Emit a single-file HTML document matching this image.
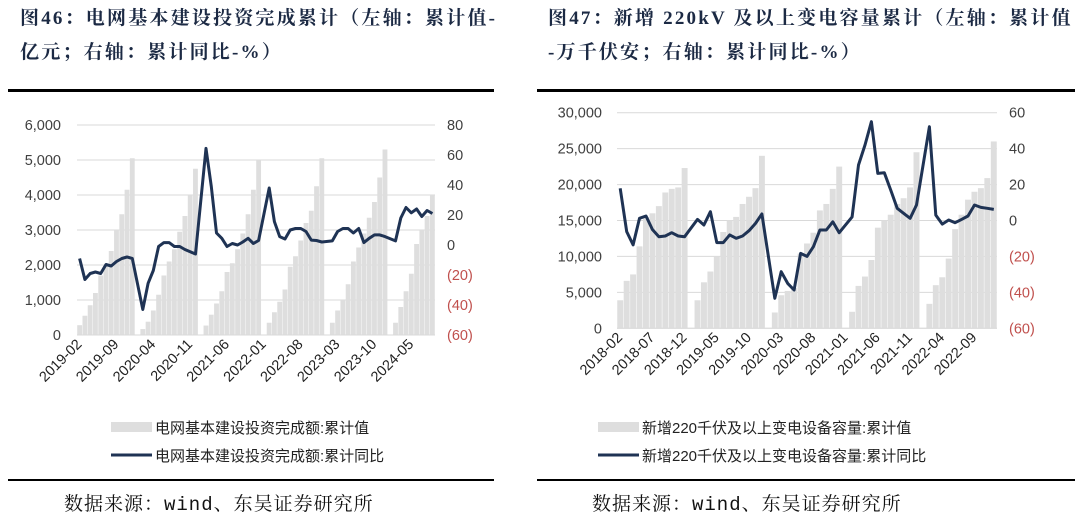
<!DOCTYPE html>
<html><head><meta charset="utf-8">
<style>
body{margin:0;width:1080px;height:522px;background:#fff;overflow:hidden;font-family:"Liberation Sans","Noto Sans CJK SC",sans-serif;}
.title{position:absolute;font-family:"Liberation Serif","Noto Serif CJK SC",serif;font-weight:bold;font-size:19px;color:#1c2a44;line-height:34px;letter-spacing:2.2px;white-space:nowrap;}
.src{position:absolute;font-family:"Liberation Mono","Noto Serif CJK SC",serif;font-size:19px;color:#111;letter-spacing:1px;}
.rule{position:absolute;background:#000;}
</style></head><body>
<div class="title" style="left:20px;top:2px;">图46：电网基本建设投资完成累计（左轴：累计值-<br>亿元；右轴：累计同比-%）</div>
<div class="title" style="left:548px;top:2px;">图47：新增 220kV 及以上变电容量累计（左轴：累计值<br>-万千伏安；右轴：累计同比-%）</div>
<div class="rule" style="left:8px;top:89px;width:486px;height:3px;"></div>
<div class="rule" style="left:537px;top:89px;width:538px;height:3px;"></div>
<div class="rule" style="left:8px;top:479px;width:486px;height:2px;"></div>
<div class="rule" style="left:537px;top:479px;width:538px;height:2px;"></div>
<div class="src" style="left:64px;top:489px;">数据来源：wind、东吴证券研究所</div>
<div class="src" style="left:592px;top:489px;">数据来源：wind、东吴证券研究所</div>
<svg id="svg" width="1080" height="522" style="position:absolute;left:0;top:0"></svg>
<script>
// ---- Left chart data (months Feb..Dec each year; Jan = null) ----
const leftStart = [2019, 2];
const leftBars2019 = [280,550,850,1200,1700,1950,2400,3000,3450,4150,5050];
const leftBars2020 = [170,380,700,1150,1700,2100,2450,2950,3400,4000,4750];
const leftBars2021 = [270,580,900,1250,1800,2050,2450,2900,3450,4150,5000];
const leftBars2022 = [350,650,950,1300,1950,2250,2700,3200,3550,4250,5050];
const leftBars2023 = [350,700,1000,1450,2100,2500,2900,3350,3800,4500,5300];
const leftBars2024 = [350,800,1250,1750,2600,3000,3400,4000];
const leftYoy2019 = [-9,-23,-19,-18,-19,-13,-14,-11,-9,-8,-9];
const leftYoy2020 = [-43,-25.5,-17,-1,1.6,1.6,-1,-1,-3,-4.5,-6];
const leftYoy2021 = [64.4,39,8,4.5,-1,1,0,2,4.5,1,3];
const leftYoy2022 = [38,15.6,5.6,4,10,11,11,9,3.3,3,2];
const leftYoy2023 = [2.7,9,11,11,8,11,1.6,4.5,6.7,6.7,5.6];
const leftYoy2024 = [2.7,18,25,21.5,24,19,23,21];
const leftTicksL = ["0","1,000","2,000","3,000","4,000","5,000","6,000"];
const leftTicksR = ["(60)","(40)","(20)","0","20","40","60","80"];
// ---- Right chart data ----
const rightStart = [2018, 2];
const rightBars2018 = [3900,6600,7500,11400,15500,16000,17000,18900,19400,19600,22300];
const rightBars2019 = [3900,6400,7900,10000,13400,15000,15500,17300,18300,19500,24000];
const rightBars2020 = [2200,4600,5200,5600,10400,11800,13300,16400,17300,19400,22500];
const rightBars2021 = [2300,5900,7200,9500,14000,15000,15800,17300,18100,19600,24500];
const rightBars2022 = [3400,6000,7100,9700,13800,15800,17900,19000,19500,20900,26000];
const rightYoy2018 = [17.9,-6.2,-13.6,1.2,2.5,-5,-9,-8.6,-6.8,-8.6,-9];
const rightYoy2019 = [0.6,-2.5,4.9,-12.3,-12.3,-8,-9.9,-8.6,-5.7,-1.6,3.6];
const rightYoy2020 = [-43.3,-28.5,-35,-38.7,-18.3,-20,-14.6,-5.3,-5.3,-0.7,-6.8];
const rightYoy2021 = [2,30.9,42,55,26.2,26.6,17,6.8,4,1.2,8.6];
const rightYoy2022 = [52.2,3,-2,0.3,-1.2,0.6,2.5,8.6,7.3,6.8,6.2];
const rightTicksL = ["0","5,000","10,000","15,000","20,000","25,000","30,000"];
const rightTicksR = ["(60)","(40)","(20)","0","20","40","60"];

const NS="http://www.w3.org/2000/svg";
const svg=document.getElementById('svg');
function mk(tag,attrs,parent){const e=document.createElementNS(NS,tag);for(const k in attrs)e.setAttribute(k,attrs[k]);(parent||svg).appendChild(e);return e;}

function build(cfg){
  const g=mk('g',{});
  
  
  const slots=[];
  cfg.bars.forEach((yb,yi)=>{
    const y=cfg.start[0]+yi;
    if(yi>0) slots.push({label:y+'-01',bar:null,yoy:null});
    yb.forEach((v,mi)=>{const m=mi+2;slots.push({label:y+'-'+String(m).padStart(2,'0'),bar:v,yoy:cfg.yoy[yi][mi]});});
  });
  const n=slots.length, step=(cfg.x1-cfg.x0)/n;
  const xC=i=>cfg.x0+(i+0.5)*step;
  const yL=v=>cfg.yb-(v-cfg.lmin)/(cfg.lmax-cfg.lmin)*(cfg.yb-cfg.yt);
  const yR=v=>cfg.yb-(v-cfg.rmin)/(cfg.rmax-cfg.rmin)*(cfg.yb-cfg.yt);
  cfg.ticksL.forEach((t,i)=>{
    const v=cfg.lmin+i*(cfg.lmax-cfg.lmin)/(cfg.ticksL.length-1);
    const gl=mk('line',{x1:cfg.x0,x2:cfg.x1,y1:yL(v),y2:yL(v),stroke:'#d9d9d9','stroke-width':1},g);
    
    
    const tx=mk('text',{x:cfg.lx,y:yL(v)+5,'text-anchor':'end','font-size':14.5,fill:'#404040'},g);
    
    
    tx.textContent=t;
  });
  cfg.ticksR.forEach((t,i)=>{
    const v=cfg.rmin+i*(cfg.rmax-cfg.rmin)/(cfg.ticksR.length-1);
    const tx=mk('text',{x:cfg.rx,y:yR(v)+5,'text-anchor':'start','font-size':14.5,fill:v<0?'#c0504d':'#404040'},g);
    
    
    tx.textContent=t;
  });
  slots.forEach((s,i)=>{
    if(s.bar==null)return;
    const r=mk('rect',{x:xC(i)-step*0.46,y:yL(s.bar),width:step*0.92,height:yL(cfg.lmin)-yL(s.bar),fill:'#dedede'},g);
    
    
  });
  const ax=mk('line',{x1:cfg.x0,x2:cfg.x1,y1:cfg.yb,y2:cfg.yb,stroke:'#d9d9d9'},g);
  
  
  const pts=[];slots.forEach((s,i)=>{if(s.yoy!=null)pts.push(xC(i).toFixed(1)+','+yR(s.yoy).toFixed(1));});
  const pl=mk('polyline',{points:pts.join(' '),fill:'none',stroke:'#1f3354','stroke-width':3,'stroke-linejoin':'round'},g);
  
  
  for(let i=0;i<n;i+=cfg.every){
    const x=xC(i)+3,y=cfg.yb+10;
    const tx=mk('text',{x:x,y:y,'text-anchor':'end','font-size':14.5,fill:'#222',transform:`rotate(-45 ${x} ${y})`},g);
    
    
    tx.textContent=slots[i].label;
  }
  const lb=mk('rect',{x:cfg.legX,y:422,width:41,height:10,fill:'#dedede'},g);
  
  
  const lt1=mk('text',{x:cfg.legX+44,y:433,'font-size':15,fill:'#222'},g);
  
  
  lt1.textContent=cfg.leg1;
  const ll=mk('line',{x1:cfg.legX,x2:cfg.legX+41,y1:455,y2:455,stroke:'#1f3354','stroke-width':3},g);
  
  
  const lt2=mk('text',{x:cfg.legX+44,y:461,'font-size':15,fill:'#222'},g);
  
  
  lt2.textContent=cfg.leg2;
}
build({name:'left-chart',start:leftStart,
  bars:[leftBars2019,leftBars2020,leftBars2021,leftBars2022,leftBars2023,leftBars2024],
  yoy:[leftYoy2019,leftYoy2020,leftYoy2021,leftYoy2022,leftYoy2023,leftYoy2024],
  x0:77,x1:435,yt:125,yb:335,lmin:0,lmax:6000,rmin:-60,rmax:80,
  ticksL:leftTicksL,ticksR:leftTicksR,lx:61,rx:447,every:7,legX:111,
  leg1:'电网基本建设投资完成额:累计值',leg2:'电网基本建设投资完成额:累计同比'});
build({name:'right-chart',start:rightStart,
  bars:[rightBars2018,rightBars2019,rightBars2020,rightBars2021,rightBars2022],
  yoy:[rightYoy2018,rightYoy2019,rightYoy2020,rightYoy2021,rightYoy2022],
  x0:617,x1:997,yt:112.7,yb:328.3,lmin:0,lmax:30000,rmin:-60,rmax:60,
  ticksL:rightTicksL,ticksR:rightTicksR,lx:602,rx:1009,every:5,legX:598,
  leg1:'新增220千伏及以上变电设备容量:累计值',leg2:'新增220千伏及以上变电设备容量:累计同比'});
</script>
</body></html>
